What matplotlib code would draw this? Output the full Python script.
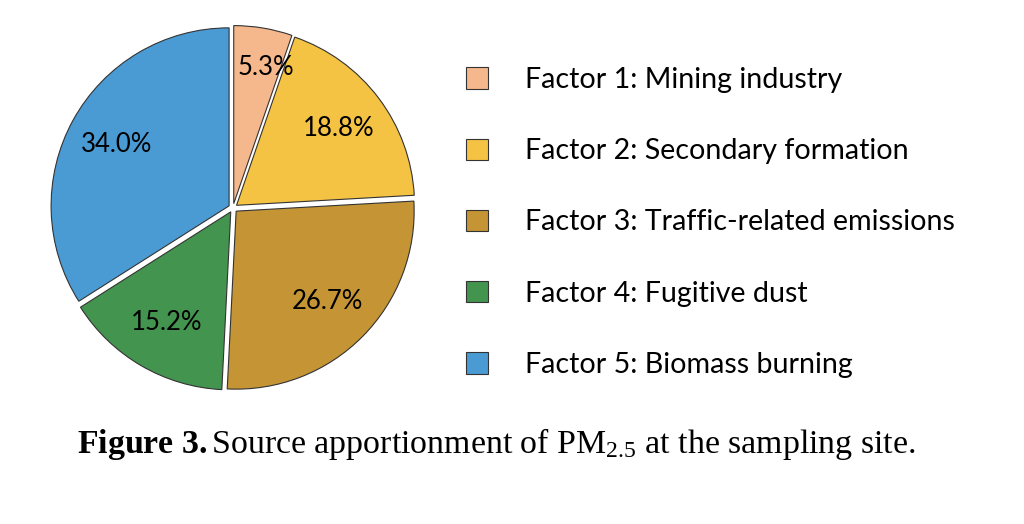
import matplotlib
matplotlib.use("Agg")
import matplotlib.pyplot as plt
import numpy as np

labels = ["Factor 1: Mining industry", "Factor 2: Secondary formation",
          "Factor 3: Traffic-related emissions", "Factor 4: Fugitive dust",
          "Factor 5: Biomass burning"]
values = [5.3, 18.8, 26.7, 15.2, 34.0]
colors = ["#F5B78C", "#F4C343", "#C59535", "#43944F", "#4A9BD4"]

plt.rcParams['mathtext.fontset'] = 'custom'
plt.rcParams['mathtext.rm'] = 'Liberation Serif'
plt.rcParams['mathtext.bf'] = 'Liberation Serif:bold'
plt.rcParams['mathtext.it'] = 'Liberation Serif:italic'

W, H = 1024, 524
fig = plt.figure(figsize=(W/100, H/100), dpi=100)
cx, cy, r = 233, 208, 178
half = r * 1.1
ax = fig.add_axes([(cx-half)/W, (H-cy-half)/H, 2*half/W, 2*half/H])

wedges, texts, autotexts = ax.pie(
    values, colors=colors, startangle=90, counterclock=False,
    explode=[0.025]*len(values), autopct='%1.1f%%', pctdistance=0.72,
    wedgeprops=dict(edgecolor='#333333', linewidth=0.8),
    textprops=dict(fontsize=18.5, family='Lato', color='black'))
ax.set_xlim(-1.1, 1.1)
ax.set_ylim(-1.1, 1.1)
ax.set_aspect('equal')

# nudge the small first slice label outward, as in the reference
w0 = wedges[0]
ang = np.deg2rad((w0.theta1 + w0.theta2) / 2 - 3)
autotexts[0].set_position((0.845*np.cos(ang), 0.81*np.sin(ang)))

leg = fig.legend(wedges, labels, loc='upper left', bbox_to_anchor=(466/W, 1-67/H),
                 frameon=False, prop=dict(family='Lato', size=20.6),
                 borderpad=0, borderaxespad=0,
                 handlelength=0.77, handleheight=0.77, handletextpad=1.3,
                 labelspacing=1.58)

fig.text(496/W, (H-453)/H,
         r"$\mathbf{Figure\ 3.}$Source apportionment of PM$_{\mathrm{2.5}}$ at the sampling site.",
         ha='center', va='baseline', fontsize=24.4, family='Liberation Serif')

fig.savefig("out.png", dpi=100)
